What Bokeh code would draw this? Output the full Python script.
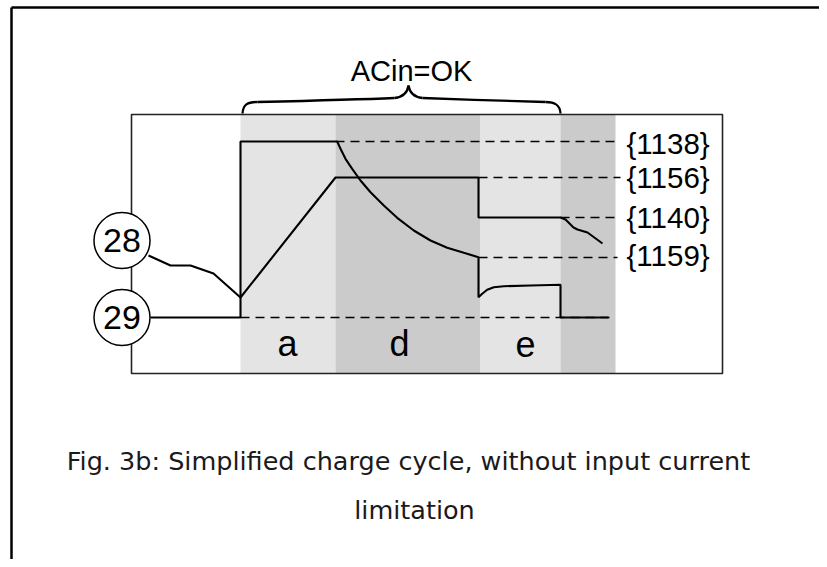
from bokeh.plotting import figure
from bokeh.models import Range1d
from bokeh.core.properties import value
from bokeh.embed import file_html
from bokeh.resources import INLINE

# ---------------- data (diagram units = reference pixels) ----------------
# charge phases (shaded bands)
phase_start = [240, 335, 480, 560]
phase_end = [335, 480, 560, 615]
phase_fill = ["#e4e4e4", "#cbcbcb", "#e4e4e4", "#cbcbcb"]
phase_names = ["a", "d", "e"]
phase_name_x = [287, 399, 525]
phase_name_y = [343, 343, 343]

# signal 28 (voltage trace)
sig28_x = [148, 170, 190, 213, 240, 335, 478, 478, 560, 565, 568, 573, 577, 587, 602]
sig28_y = [255, 265, 265, 273, 297, 177, 177, 217, 217, 219, 222, 227, 229, 232, 243]

# signal 29 (current trace)
sig29_x = [150, 240, 240, 335, 336.7, 340, 345, 351.7, 360, 370, 383.3, 396.7, 413.3,
           430, 446.7, 463.3, 478, 478, 481.7, 486.7, 493.3, 503.3, 530, 560, 560, 608]
sig29_y = [317, 317, 141, 141, 141, 148.3, 158.3, 168.3, 180, 191.7, 205, 217.3, 230,
           240, 247.3, 252.3, 256.7, 296.7, 293.3, 289.3, 286.7, 285.7, 285, 284.3, 317, 317]

# parameter reference levels
ref_params = ["{1138}", "{1156}", "{1140}", "{1159}"]
ref_y = [141, 177, 217, 257]
ref_x0 = [335, 478, 560, 478]
ref_x1 = [617, 620, 620, 617]
ref_label_y = [143, 177, 217, 255]
base_y = 317
base_x0, base_x1 = 240, 612

# signal markers
marker_labels = ["28", "29"]
marker_x = [121.5, 121.5]
marker_y = [240, 317]

# inner box
box_left, box_right, box_top, box_bottom = 131, 722, 114, 373

# brace over phases (ACin=OK)
brace_x0 = [242, 257, 394, 408, 422, 545]
brace_y0 = [113, 101.5, 97.5, 85, 97.5, 101.5]
brace_x1 = [257, 394, 408, 422, 545, 560]
brace_y1 = [101.5, 97.5, 85, 97.5, 101.5, 113]
brace_cx0 = [242.5, 300, 403, 409, 460, 554]
brace_cy0 = [104, 100.5, 96.5, 92, 99, 101.5]
brace_cx1 = [247, 360, 407, 413, 515, 559.5]
brace_cy1 = [101.5, 99, 92, 96.5, 100.5, 104]
brace_text = "ACin=OK"
brace_text_x, brace_text_y = 411, 70

caption_lines = ["Fig. 3b: Simplified charge cycle, without input current", "limitation"]
caption_x = [408, 414]
caption_y = [460, 509]

# ---------------- figure ----------------
p = figure(width=819, height=559, x_range=Range1d(0, 819), y_range=Range1d(559, 0),
           x_axis_type=None, y_axis_type=None, toolbar_location=None,
           output_backend="svg", min_border=0)
p.grid.visible = False
p.outline_line_color = None
p.background_fill_color = "white"
p.border_fill_color = "white"

# outer frame (left and top edges)
p.line(x=[11, 11], y=[559, 7], line_color="black", line_width=2.5)
p.line(x=[11, 819], y=[7, 7], line_color="black", line_width=2.5)

# phases
p.quad(left=phase_start, right=phase_end, top=[box_top] * 4, bottom=[box_bottom] * 4,
       fill_color=phase_fill, line_color=None)

# inner box
p.quad(left=[box_left], right=[box_right], top=[box_top], bottom=[box_bottom],
       fill_color=None, line_color="#222222", line_width=1.6)

# dashed references
p.segment(x0=ref_x0, y0=ref_y, x1=ref_x1, y1=ref_y, line_color="black",
          line_width=1.5, line_dash="9 6")
p.segment(x0=[base_x0], y0=[base_y], x1=[base_x1], y1=[base_y], line_color="black",
          line_width=1.5, line_dash="9 6")

# signals
p.line(x=sig28_x, y=sig28_y, line_color="black", line_width=2.1)
p.line(x=sig29_x, y=sig29_y, line_color="black", line_width=2.1)

# markers
p.circle(x=marker_x, y=marker_y, radius=28, fill_color="white", line_color="black",
         line_width=1.5)
p.text(x=marker_x, y=marker_y, text=marker_labels, text_font=value("Liberation Sans"),
       text_font_size=value("34px"), text_align="center", text_baseline="middle",
       text_color="black")

# parameter labels
p.text(x=[626] * 4, y=ref_label_y, text=ref_params, text_font=value("Liberation Sans"),
       text_font_size=value("29.5px"), text_align="left", text_baseline="middle",
       text_color="black")

# phase names
p.text(x=phase_name_x, y=phase_name_y, text=phase_names, text_font=value("Liberation Sans"),
       text_font_size=value("36px"), text_align="center", text_baseline="middle",
       text_color="black")

# brace + label
p.bezier(x0=brace_x0, y0=brace_y0, x1=brace_x1, y1=brace_y1,
         cx0=brace_cx0, cy0=brace_cy0, cx1=brace_cx1, cy1=brace_cy1,
         line_color="black", line_width=2.3)
p.text(x=[brace_text_x], y=[brace_text_y], text=[brace_text],
       text_font=value("Liberation Sans"), text_font_size=value("29px"),
       text_align="center", text_baseline="middle", text_color="black")

# caption
p.text(x=caption_x, y=caption_y, text=caption_lines, text_font=value("DejaVu Sans"),
       text_font_size=value("25.5px"), text_align="center", text_baseline="middle",
       text_color="#1a1a1a")

open("out.html", "w").write(file_html(p, INLINE))
